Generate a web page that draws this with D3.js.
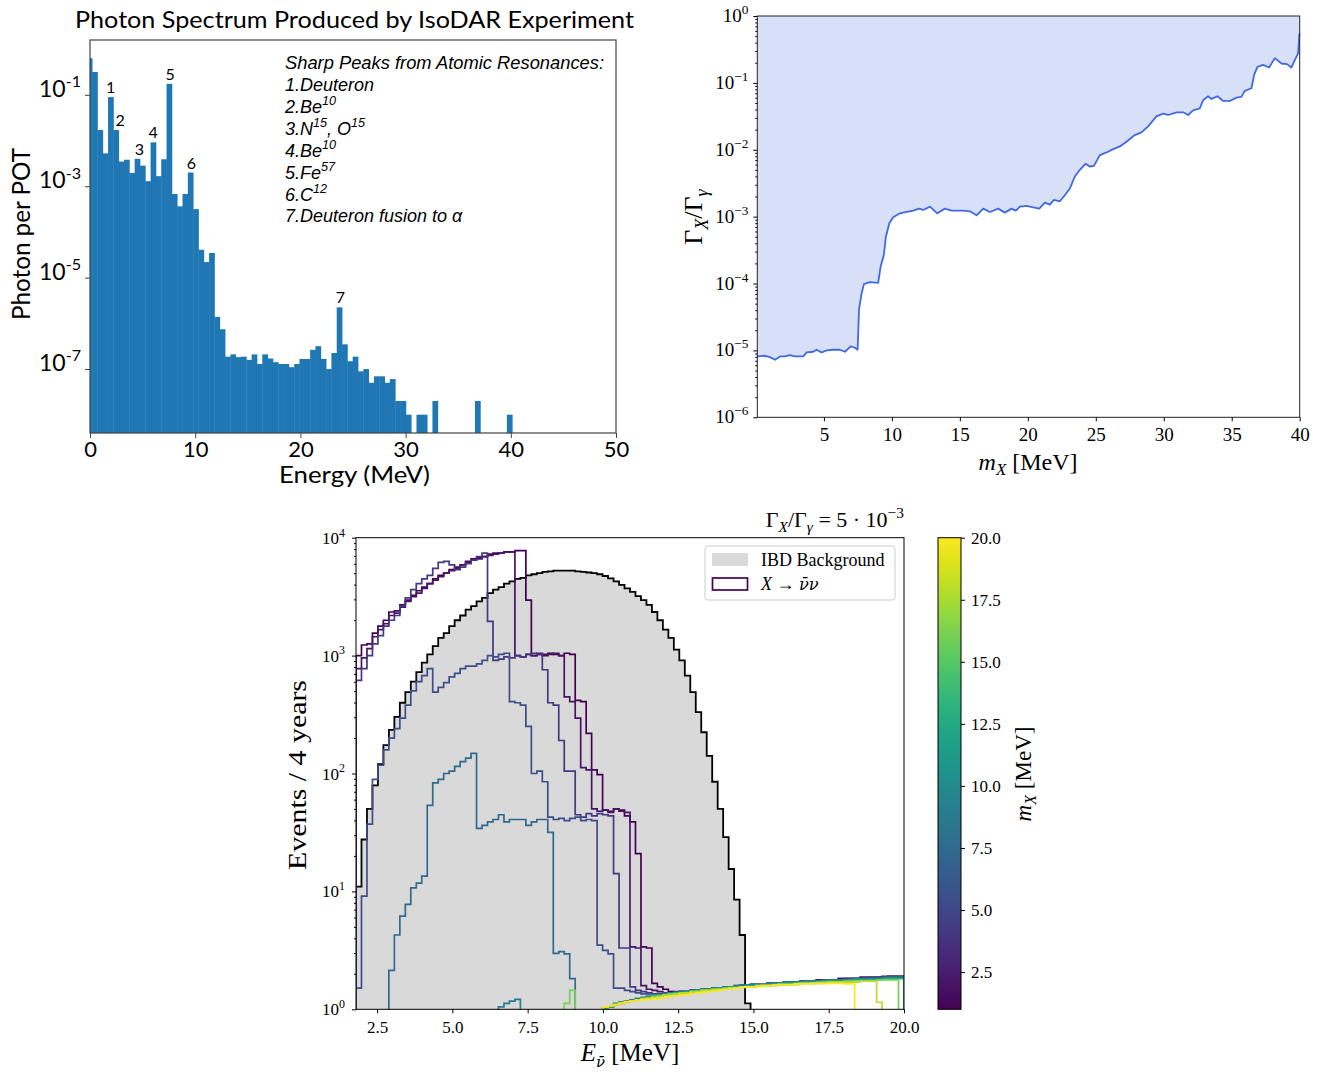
<!DOCTYPE html>
<html><head><meta charset="utf-8">
<script src="https://cdn.jsdelivr.net/npm/d3@7/dist/d3.min.js"></script>
<style>html,body{margin:0;padding:0;background:#fff;}svg{display:block;}</style>
</head><body>
<svg id="chart" width="1318" height="1072"></svg>
<script>
// ================= DATA =================
// Panel 1: photon spectrum, log10(photons per POT) per bin; first entry = partial bin [0, first edge]
const photonFirstEdge = 0.2;
const photonBinWidth = 0.5055;
const photonLog10 = [-0.20,-0.50,-1.77,-2.28,-1.05,-1.77,-2.46,-2.42,-2.71,-2.40,
 -2.55,-2.89,-2.04,-2.78,-2.41,-0.76,-3.17,-3.44,-3.17,-2.70,
 -3.50,-4.39,-4.66,-4.46,-5.86,-6.13,-6.73,-6.68,-6.74,-6.73,
 -6.80,-6.68,-6.89,-6.68,-6.77,-6.85,-6.89,-6.89,-6.96,-6.89,
 -6.78,-6.78,-6.58,-6.50,-6.78,-7.00,-6.65,-5.65,-6.46,-6.83,
 -6.73,-7.05,-7.00,-7.30,-7.16,-7.16,-7.30,-7.22,-7.70,-7.70,
 -8.00,null,-8.00,-8.00,null,-7.70,null,null,null,null,
 null,null,null,-7.70,null,null,null,null,null,-8.00];
const photonTicksX = [0,10,20,30,40,50];
const photonTicksExp = [-1,-3,-5,-7];
const peakNames = ["1","2","3","4","5","6","7"];
const peakBins = [4,5,9,12,15,19,47];
const peakShift = [0,4,2,0,1,1,1];
const resonanceTitle = "Sharp Peaks from Atomic Resonances:";
const resonanceLines = [
  [["1.Deuteron",""]],
  [["2.Be","10"]],
  [["3.N","15"],[", O","15"]],
  [["4.Be","10"]],
  [["5.Fe","57"]],
  [["6.C","12"]],
  [["7.Deuteron fusion to \u03b1",""]]
];

// Panel 2: limit on Gamma_X / Gamma_gamma vs m_X
const massX = [0.1,0.66,1.03,1.4,1.77,2.13,2.5,2.87,3.48,3.73,4.22,4.46,4.83,5.2,5.69,6.18,6.55,6.96,7.28,7.48,
 7.58,7.77,7.94,8.38,8.99,9.17,9.41,9.56,9.81,10.1,10.59,11.08,11.57,12.01,12.31,12.8,13.34,13.9,14.39,15.25,
 15.74,16.23,16.72,17.21,17.82,18.31,18.8,19.12,19.42,19.91,20.4,20.84,21.25,21.62,21.92,22.36,22.72,23.09,23.46,23.83,
 24.24,24.56,24.86,25.3,25.79,26.28,26.77,27.26,27.87,28.36,28.85,29.46,29.95,30.32,30.94,31.43,31.79,32.16,32.65,32.9,
 33.26,33.51,33.95,34.37,34.86,35.35,35.71,35.96,36.45,36.65,36.89,37.31,37.75,38.17,38.66,39.07,39.39,39.64,39.88,39.98];
const ratioLog10 = [-5.09,-5.08,-5.10,-5.14,-5.09,-5.09,-5.07,-5.09,-5.09,-5.03,-5.02,-4.99,-5.03,-5.00,-4.99,-4.99,-5.02,-4.94,-4.96,-4.99,
 -4.39,-4.15,-4.01,-3.98,-3.99,-3.75,-3.57,-3.30,-3.10,-3.01,-2.95,-2.93,-2.91,-2.88,-2.90,-2.85,-2.95,-2.88,-2.91,-2.91,
 -2.92,-2.98,-2.88,-2.93,-2.88,-2.94,-2.88,-2.91,-2.85,-2.84,-2.86,-2.88,-2.79,-2.82,-2.75,-2.77,-2.68,-2.58,-2.40,-2.30,
 -2.21,-2.25,-2.24,-2.08,-2.04,-1.99,-1.95,-1.88,-1.78,-1.74,-1.65,-1.50,-1.46,-1.48,-1.44,-1.44,-1.48,-1.41,-1.38,-1.26,
 -1.20,-1.24,-1.20,-1.27,-1.27,-1.22,-1.21,-1.12,-1.08,-0.88,-0.76,-0.73,-0.77,-0.63,-0.71,-0.72,-0.77,-0.66,-0.56,-0.26];
const massTicks = [5,10,15,20,25,30,35,40];
const ratioTicksExp = [0,-1,-2,-3,-4,-5,-6];

// Panel 3: events / 4 years, log10 per bin (bins of nuBinWidth MeV from nuBinStart)
const nuBinStart = 1.8, nuBinWidth = 0.182, nuBinCount = 100;
const ibdLog10 = [1.04,1.44,1.70,1.90,2.08,2.24,2.37,2.48,2.60,2.69,
 2.78,2.86,2.94,3.01,3.08,3.15,3.19,3.25,3.30,3.34,
 3.39,3.42,3.46,3.49,3.53,3.56,3.58,3.61,3.63,3.65,
 3.66,3.68,3.69,3.70,3.71,3.715,3.72,3.72,3.72,3.72,
 3.715,3.71,3.705,3.70,3.69,3.675,3.655,3.63,3.60,3.57,
 3.54,3.505,3.47,3.43,3.37,3.30,3.22,3.15,3.05,2.96,
 2.83,2.69,2.52,2.35,2.15,1.93,1.70,1.46,1.19,0.93,
 0.63,0.05];
const curveMasses = [1,2,4,5.5,7.5,9,12.5,16,18,20];
// each curve: list of [first bin, log10 values...]
const curveM1 = [
 [0,[3.00,3.09,3.10,3.19,3.25,3.30,3.37,3.38,3.43,3.47,3.51,3.55,3.58,3.61,3.65,3.68,3.70,3.73,3.75,3.77,3.80,3.82,3.83,3.84,3.86,3.87,3.87,3.88,3.88,3.89,3.89]],
 [31,[3.47]],
 [32,[3.00,3.01,3.00,3.02,3.01,3.00,3.02,3.01]],
 [40,[2.62,2.61,2.34,2.03,1.99,1.69,1.68,1.70,1.69,1.64,1.59,1.32,0.53,0.52,0.22]],
 [55,[0.19,0.17,0.15,0.14,0.14,0.15,0.15,0.16,0.16,0.17,0.17,0.18,0.18,0.19,0.19,0.20,0.20,0.21,0.21,0.21,0.22,0.22,0.22,0.23,0.23,0.23,0.24,0.24,0.24,0.25,0.25,0.25,0.25,0.26,0.26,0.26,0.26,0.27,0.27,0.27,0.27,0.28,0.28,0.28,0.28]]
];
const curveM2 = [
 [0,[2.89,2.98,3.06,3.16,3.22,3.27,3.34,3.36,3.41,3.46,3.50,3.53,3.57,3.61,3.64,3.67,3.70,3.72,3.74,3.77,3.79,3.81,3.82,3.84,3.85,3.86,3.87,3.88,3.88]],
 [29,[3.00,2.99,3.01,3.00,3.02,3.01,3.01,3.02,3.00]],
 [38,[2.65,2.61,2.47,2.05,2.03,1.70,1.68,1.69,1.67,1.70,1.68,1.67,0.53,0.52,0.20]],
 [53,[0.17,0.16,0.15,0.14,0.14,0.14,0.15,0.15,0.16,0.16,0.17,0.17,0.18,0.18,0.18,0.19,0.19,0.20,0.20,0.21,0.21,0.21,0.22,0.22,0.22,0.23,0.23,0.23,0.24,0.24,0.24,0.25,0.25,0.25,0.25,0.26,0.26,0.26,0.26,0.27,0.27,0.27,0.27,0.27,0.28,0.28,0.28]]
];
const curveM4 = [
 [0,[2.79,2.89,3.00,3.10,3.17,3.25,3.30,3.34,3.42,3.49,3.56,3.61,3.65,3.68,3.74,3.79,3.80,3.77,3.73,3.75,3.78,3.81,3.84,3.87]],
 [24,[3.29,2.96,2.97,2.99,2.98,3.00,2.99,3.01,3.02,3.01,2.88,2.60,2.58,2.28,2.02,2.02,1.65,1.63,1.66,1.64,1.66,1.65,1.64,1.15,0.52,0.52,0.19]],
 [51,[0.16,0.15,0.14,0.13,0.13,0.13,0.14,0.14,0.15,0.15,0.16,0.16,0.17,0.17,0.18,0.18,0.19,0.19,0.19,0.20,0.20,0.21,0.21,0.21,0.22,0.22,0.22,0.23,0.23,0.23,0.24,0.24,0.24,0.24,0.25,0.25,0.25,0.25,0.26,0.26,0.26,0.26,0.26,0.27,0.27,0.27,0.27,0.27,0.27]]
];
const curveM5 = [
 [0,[0.18,0.96,1.57,1.95,2.07,2.20,2.30,2.38,2.47,2.58,2.70,2.78,2.83,2.89]],
 [14,[2.69,2.73,2.77,2.82,2.85,2.89,2.91,2.91,2.93,2.96,3.00,2.99,3.01,3.02]],
 [28,[2.61,2.60,2.58,2.40,2.00,2.02,1.93,1.63,1.61,1.62,1.60,1.62,1.63,1.60,1.61,1.60,0.545,0.50,0.47,0.18,0.18,0.16]],
 [50,[0.15,0.14,0.13,0.13,0.13,0.13,0.14,0.14,0.15,0.15,0.15,0.16,0.16,0.17,0.17,0.18,0.18,0.19,0.19,0.19,0.20,0.20,0.21,0.21,0.21,0.22,0.22,0.22,0.23,0.23,0.23,0.24,0.24,0.24,0.24,0.25,0.25,0.25,0.25,0.26,0.26,0.26,0.26,0.26,0.27,0.27,0.27,0.27,0.27,0.27]]
];
const curveM7 = [
 [6,[0.33,0.63,0.79,0.89,1.03,1.07,1.13,1.73,1.92,1.95,2.00,2.02,2.06,2.10,2.13,2.17]],
 [22,[1.535,1.56,1.59,1.61,1.65,1.59,1.61,1.61,1.61,1.56,1.59,1.61,1.61,1.50,0.475,0.49,0.47,0.26]],
 [46,[0.02,0.04,0.06,0.07,0.08,0.09,0.10,0.11,0.12,0.12,0.13,0.14,0.14,0.15,0.15,0.16,0.16,0.17,0.17,0.18,0.18,0.19,0.19,0.20,0.20,0.20,0.21,0.21,0.21,0.22,0.22,0.22,0.23,0.23,0.23,0.23,0.24,0.24,0.24,0.24,0.25,0.25,0.25,0.25,0.25,0.26,0.26,0.26,0.26,0.26,0.27,0.27,0.27,0.27]]
];
const curveM9 = [
 [26,[0.02,0.05,0.07,0.085]],
 [45,[0.01,0.03,0.05,0.06,0.07,0.08,0.09,0.10,0.11,0.12,0.12,0.13,0.14,0.14,0.15,0.15,0.16,0.16,0.17,0.17,0.18,0.18,0.19,0.19,0.20,0.20,0.20,0.21,0.21,0.21,0.22,0.22,0.22,0.23,0.23,0.23,0.23,0.24,0.24,0.24,0.24,0.25,0.25,0.25,0.25,0.25,0.26,0.26,0.26,0.26,0.26,0.26,0.27,0.27,0.27]]
];
const curveM12 = [
 [45,[0.01,0.02,0.04,0.05,0.06,0.07,0.08,0.09,0.10,0.11,0.12,0.12,0.13,0.14,0.14,0.15,0.15,0.16,0.16,0.17,0.17,0.18,0.18,0.19,0.19,0.19,0.20,0.20,0.20,0.21,0.21,0.21,0.22,0.22,0.22,0.22,0.23,0.23,0.23,0.23,0.24,0.24,0.24,0.24,0.24,0.25,0.25,0.25,0.25,0.25,0.25,0.26,0.26,0.26,0.26]]
];
const curveM16 = [
 [38,[0.05,0.16]],
 [45,[0.02,0.03,0.04,0.05,0.06,0.07,0.08,0.09,0.10,0.11,0.11,0.12,0.13,0.13,0.14,0.14,0.15,0.15,0.16,0.16,0.17,0.17,0.18,0.18,0.18,0.19,0.19,0.19,0.20,0.20,0.20,0.21,0.21,0.21,0.21,0.22,0.22,0.22,0.22,0.23,0.23,0.23,0.23,0.23,0.24,0.24,0.24,0.24,0.24,0.24,0.25,0.25,0.25,0.25]]
];
const curveM18 = [
 [45,[0.02,0.03,0.04,0.05,0.06,0.07,0.08,0.09,0.09,0.10,0.11,0.12,0.12,0.13,0.14,0.14,0.15,0.15,0.16,0.16,0.17,0.17,0.17,0.18,0.18,0.19,0.19,0.19,0.20,0.20,0.20,0.20,0.21,0.21,0.21,0.21,0.22,0.22,0.22,0.22,0.22,0.23,0.23,0.23,0.23,0.23,0.23,0.24,0.24,0.24,0.06]]
];
const curveM20 = [
 [45,[0.02,0.03,0.04,0.05,0.065,0.07,0.075,0.08,0.085,0.09,0.093,0.10,0.11,0.115,0.12,0.125,0.135,0.14,0.145,0.15,0.155,0.16,0.17,0.175,0.18,0.185,0.19,0.19,0.195,0.20,0.20,0.205,0.21,0.21,0.21,0.215,0.215,0.215,0.22,0.22,0.22,0.22,0.22,0.22,0.215,0.215]]
];
const curveList = [curveM1,curveM2,curveM4,curveM5,curveM7,curveM9,curveM12,curveM16,curveM18,curveM20];
const energyTicks = [2.5,5,7.5,10,12.5,15,17.5,20];
const eventTicksExp = [0,1,2,3,4];
const colorbarTicks = [2.5,5,7.5,10,12.5,15,17.5,20];
const legendLabels = ["IBD Background","X \u2192 \u03bd\u0304\u03bd"];

// ================= DRAWING =================
const svg = d3.select("#chart");
const SERIF = "'Liberation Serif','DejaVu Serif',serif";
const DJS = "'DejaVu Serif',serif";
const SANS = "Lato,'Open Sans',sans-serif";
const ARIAL = "'Liberation Sans',Arial,sans-serif";

function rich(text, parts, fs){
  let cur = 0;
  parts.forEach(p => {
    const small = p.sup || p.sub;
    const target = p.sup ? -fs*0.42 : (p.sub ? fs*0.22 : 0);
    const ts = text.append("tspan").attr("font-size", (small ? fs*0.7 : fs)*(p.s||1)).text(p.t);
    if (target - cur !== 0) ts.attr("dy", target - cur);
    if (p.i) ts.attr("font-style","italic");
    if (p.f) ts.attr("font-family", p.f);
    cur = target;
  });
  return text;
}
function minorLogTicks(lo, hi){
  const out=[];
  for(let e=lo;e<hi;e++) for(let m=2;m<=9;m++) out.push(m*Math.pow(10,e));
  return out;
}

// ---------- Panel 1 ----------
const P1 = {l:90, r:616, t:40, b:433};
const x1 = d3.scaleLinear().domain([0,50]).range([P1.l,P1.r]);
const y1 = d3.scaleLog().domain([Math.pow(10,-8.4), Math.pow(10,0.2)]).range([P1.b,P1.t]);
const g1 = svg.append("g");
const pLo = j => j===0 ? 0 : photonFirstEdge + (j-1)*photonBinWidth;
const pHi = j => photonFirstEdge + j*photonBinWidth;
g1.selectAll("rect.bar").data(photonLog10.map((v,j)=>({v,j})).filter(d=>d.v!==null))
  .join("rect").attr("class","bar")
  .attr("x", d=>x1(pLo(d.j)))
  .attr("width", d=>x1(pHi(d.j))-x1(pLo(d.j))+0.4)
  .attr("y", d=>y1(Math.pow(10,d.v)))
  .attr("height", d=>P1.b - y1(Math.pow(10,d.v)))
  .attr("fill","#1f77b4");
g1.append("rect").attr("x",P1.l).attr("y",P1.t).attr("width",P1.r-P1.l).attr("height",P1.b-P1.t)
  .attr("fill","none").attr("stroke","#444").attr("stroke-width",1.2);
const ax1 = g1.append("g").attr("transform",`translate(0,${P1.b})`)
  .call(d3.axisBottom(x1).tickValues(photonTicksX).tickSize(5).tickPadding(3).tickFormat(d3.format("d")));
ax1.select(".domain").remove();
ax1.selectAll("line").attr("stroke","#444");
ax1.selectAll("text").attr("font-family",SANS).attr("font-size",22).attr("fill","#000");
const ay1 = g1.append("g").attr("transform",`translate(${P1.l},0)`)
  .call(d3.axisLeft(y1).tickValues(photonTicksExp.map(e=>Math.pow(10,e))).tickSize(5).tickFormat(""));
ay1.select(".domain").remove();
ay1.selectAll("line").attr("stroke","#444");
photonTicksExp.forEach(e=>{
  rich(g1.append("text").attr("x",P1.l-9).attr("y",y1(Math.pow(10,e))+2).attr("text-anchor","end")
    .attr("font-family",SANS).attr("fill","#000"), [{t:"10"},{t:String(e),sup:true}], 23);
});
peakBins.forEach((j,i)=>{
  g1.append("text").attr("x", x1((pLo(j)+pHi(j))/2)+peakShift[i]).attr("y", y1(Math.pow(10,photonLog10[j]))-4)
    .attr("text-anchor","middle").attr("font-family",SANS).attr("font-size",16).attr("fill","#000").text(peakNames[i]);
});
g1.append("text").attr("x",354.5).attr("y",28).attr("text-anchor","middle").attr("font-family",SANS)
  .attr("font-size",24).attr("textLength",559).attr("lengthAdjust","spacingAndGlyphs").attr("fill","#000")
  .text("Photon Spectrum Produced by IsoDAR Experiment");
g1.append("text").attr("x",354.5).attr("y",483).attr("text-anchor","middle").attr("font-family",SANS)
  .attr("font-size",23).attr("textLength",151).attr("lengthAdjust","spacingAndGlyphs").attr("fill","#000")
  .text("Energy (MeV)");
g1.append("text").attr("transform","translate(30,234) rotate(-90)").attr("text-anchor","middle").attr("font-family",SANS)
  .attr("font-size",25).attr("textLength",172).attr("lengthAdjust","spacingAndGlyphs").attr("fill","#000")
  .text("Photon per POT");
g1.append("text").attr("x",285).attr("y",69).attr("font-family",ARIAL).attr("font-style","italic")
  .attr("font-size",18).attr("textLength",319).attr("lengthAdjust","spacingAndGlyphs").attr("fill","#000").text(resonanceTitle);
resonanceLines.forEach((line,i)=>{
  const parts=[];
  line.forEach(([t,s])=>{ parts.push({t:t}); if(s) parts.push({t:s,sup:true}); });
  rich(g1.append("text").attr("x",285).attr("y",91+21.9*i).attr("font-family",ARIAL).attr("font-style","italic").attr("fill","#000"), parts, 18);
});

// ---------- Panel 2 ----------
const P2 = {l:757.3, r:1299.7, t:16, b:417.3};
const x2 = d3.scaleLinear().domain([0.1,40]).range([P2.l,P2.r]);
const y2 = d3.scaleLog().domain([1e-6,1]).range([P2.b,P2.t]);
const g2 = svg.append("g");
const lim = massX.map((m,i)=>[m, ratioLog10[i]]);
g2.append("path").attr("d", d3.area().x(d=>x2(d[0])).y0(P2.t).y1(d=>y2(Math.pow(10,d[1])))(lim))
  .attr("fill","#d8e0f8");
g2.append("path").attr("d", d3.line().x(d=>x2(d[0])).y(d=>y2(Math.pow(10,d[1])))(lim))
  .attr("fill","none").attr("stroke","#4169e1").attr("stroke-width",1.8).attr("stroke-linejoin","round");
g2.append("rect").attr("x",P2.l).attr("y",P2.t).attr("width",P2.r-P2.l).attr("height",P2.b-P2.t)
  .attr("fill","none").attr("stroke","#222").attr("stroke-width",1);
const ax2 = g2.append("g").attr("transform",`translate(0,${P2.b})`)
  .call(d3.axisBottom(x2).tickValues(massTicks).tickSize(4).tickPadding(6).tickFormat(d3.format("d")));
ax2.select(".domain").remove();
ax2.selectAll("text").attr("font-family",SERIF).attr("font-size",19).attr("fill","#000");
const ay2 = g2.append("g").attr("transform",`translate(${P2.l},0)`)
  .call(d3.axisLeft(y2).tickValues(ratioTicksExp.map(e=>Math.pow(10,e))).tickSize(4).tickFormat(""));
ay2.select(".domain").remove();
g2.append("g").attr("transform",`translate(${P2.l},0)`)
  .call(d3.axisLeft(y2).tickValues(minorLogTicks(-6,0)).tickSize(2).tickFormat(""))
  .select(".domain").remove();
ratioTicksExp.forEach(e=>{
  rich(g2.append("text").attr("x",P2.l-9).attr("y",y2(Math.pow(10,e))+6).attr("text-anchor","end")
    .attr("font-family",SERIF).attr("fill","#000"), [{t:"10"},{t:(e<0?"\u2212"+(-e):String(e)),sup:true}], 19);
});
rich(g2.append("text").attr("x",1028).attr("y",470).attr("text-anchor","middle").attr("font-family",SERIF).attr("fill","#000"),
  [{t:"m",i:true},{t:"X",i:true,sub:true},{t:" [MeV]"}], 24);
rich(g2.append("text").attr("transform","translate(702,217) rotate(-90)").attr("text-anchor","middle").attr("font-family",SERIF).attr("fill","#000"),
  [{t:"\u0393"},{t:"X",i:true,sub:true},{t:"/\u0393"},{t:"\u03b3",i:true,sub:true}], 26);

// ---------- Panel 3 ----------
const P3 = {l:356, r:904, t:537.7, b:1009.3};
const x3 = d3.scaleLinear().domain([1.8,20]).range([P3.l,P3.r]);
const y3 = d3.scaleLog().domain([1,1e4]).range([P3.b,P3.t]);
const edge = i => nuBinStart + i*nuBinWidth;
const vir = m => d3.interpolateViridis((m-1)/19);
function expand(segs){
  const a = new Array(nuBinCount).fill(null);
  segs.forEach(([s,vals])=>vals.forEach((v,k)=>{ if(s+k<nuBinCount) a[s+k]=v; }));
  return a;
}
function stepPts(vals){
  const floor = P3.b + 30;
  const f = vals.findIndex(v=>v!==null);
  let l = vals.length-1; while(l>=0 && vals[l]===null) l--;
  const pts=[[x3(edge(f)), floor]];
  for(let i=f;i<=l;i++){
    const yy = vals[i]===null ? floor : y3(Math.pow(10,vals[i]));
    pts.push([x3(edge(i)),yy],[x3(edge(i+1)),yy]);
  }
  pts.push([x3(edge(l+1)), floor]);
  return pts;
}
const defs = svg.append("defs");
defs.append("clipPath").attr("id","clip3").append("rect")
  .attr("x",P3.l).attr("y",P3.t).attr("width",P3.r-P3.l).attr("height",P3.b-P3.t);
const g3 = svg.append("g");
const plot3 = g3.append("g").attr("clip-path","url(#clip3)");
const ibdPts = stepPts(ibdLog10);
plot3.append("path").attr("d", d3.line()(ibdPts)+"Z").attr("fill","#d9d9d9");
plot3.append("path").attr("d", d3.line()(ibdPts)).attr("fill","none").attr("stroke","#000").attr("stroke-width",1.8);
curveList.forEach((segs,idx)=>{
  plot3.append("path").attr("d", d3.line()(stepPts(expand(segs))))
    .attr("fill","none").attr("stroke", vir(curveMasses[idx])).attr("stroke-width",1.7);
});
g3.append("rect").attr("x",P3.l).attr("y",P3.t).attr("width",P3.r-P3.l).attr("height",P3.b-P3.t)
  .attr("fill","none").attr("stroke","#000").attr("stroke-width",1);
const ax3 = g3.append("g").attr("transform",`translate(0,${P3.b})`)
  .call(d3.axisBottom(x3).tickValues(energyTicks).tickSize(4).tickPadding(8).tickFormat(d3.format(".1f")));
ax3.select(".domain").remove();
ax3.selectAll("text").attr("font-family",SERIF).attr("font-size",17).attr("fill","#000");
const ay3 = g3.append("g").attr("transform",`translate(${P3.l},0)`)
  .call(d3.axisLeft(y3).tickValues(eventTicksExp.map(e=>Math.pow(10,e))).tickSize(4).tickFormat(""));
ay3.select(".domain").remove();
g3.append("g").attr("transform",`translate(${P3.l},0)`)
  .call(d3.axisLeft(y3).tickValues(minorLogTicks(0,4)).tickSize(2).tickFormat(""))
  .select(".domain").remove();
eventTicksExp.forEach(e=>{
  rich(g3.append("text").attr("x",P3.l-11).attr("y",y3(Math.pow(10,e))+6).attr("text-anchor","end")
    .attr("font-family",SERIF).attr("fill","#000"), [{t:"10"},{t:String(e),sup:true}], 17);
});
rich(g3.append("text").attr("x",630).attr("y",1061).attr("text-anchor","middle").attr("font-family",SERIF).attr("fill","#000"),
  [{t:"E",i:true},{t:"\u03bd\u0304",i:true,sub:true,f:DJS,s:0.85},{t:"\u00a0[MeV]"}], 25);
g3.append("text").attr("transform","translate(306,775) rotate(-90)").attr("text-anchor","middle").attr("font-family",SERIF)
  .attr("font-size",25).attr("textLength",190).attr("lengthAdjust","spacingAndGlyphs").attr("fill","#000").text("Events / 4 years");
rich(g3.append("text").attr("x",904).attr("y",527).attr("text-anchor","end").attr("font-family",SERIF).attr("fill","#000"),
  [{t:"\u0393"},{t:"X",i:true,sub:true},{t:"/\u0393"},{t:"\u03b3",i:true,sub:true},{t:" = 5 \u00b7 10"},{t:"\u22123",sup:true}], 22);
// legend
const lg = g3.append("g");
lg.append("rect").attr("x",705).attr("y",546).attr("width",190).attr("height",54).attr("rx",3)
  .attr("fill","#fff").attr("fill-opacity",0.85).attr("stroke","#cccccc");
lg.append("rect").attr("x",712).attr("y",553).attr("width",36).attr("height",13).attr("fill","#d9d9d9");
lg.append("rect").attr("x",712.5).attr("y",578).attr("width",35).attr("height",12).attr("fill","none")
  .attr("stroke",vir(curveMasses[0])).attr("stroke-width",1.7);
lg.append("text").attr("x",761).attr("y",566).attr("font-family",SERIF).attr("font-size",18).attr("fill","#000").text(legendLabels[0]);
rich(lg.append("text").attr("x",761).attr("y",590).attr("font-family",SERIF).attr("fill","#000"),
  [{t:"X",i:true},{t:" \u2192 "},{t:"\u03bd\u0304\u03bd",i:true,f:DJS,s:0.9}], 18);
// colorbar
const CB = {l:938, r:961, t:537.7, b:1009.3};
const cbY = d3.scaleLinear().domain([1,20]).range([CB.b,CB.t]);
const grad = defs.append("linearGradient").attr("id","virGrad").attr("x1",0).attr("y1",1).attr("x2",0).attr("y2",0);
d3.range(0,1.0001,0.05).forEach(t=>grad.append("stop").attr("offset",t).attr("stop-color",d3.interpolateViridis(t)));
g3.append("rect").attr("x",CB.l).attr("y",CB.t).attr("width",CB.r-CB.l).attr("height",CB.b-CB.t)
  .attr("fill","url(#virGrad)").attr("stroke","#000").attr("stroke-width",1);
const acb = g3.append("g").attr("transform",`translate(${CB.r},0)`)
  .call(d3.axisRight(cbY).tickValues(colorbarTicks).tickSize(4).tickPadding(6).tickFormat(d3.format(".1f")));
acb.select(".domain").remove();
acb.selectAll("text").attr("font-family",SERIF).attr("font-size",17).attr("fill","#000");
rich(g3.append("text").attr("transform","translate(1031,774) rotate(-90)").attr("text-anchor","middle").attr("font-family",SERIF).attr("fill","#000"),
  [{t:"m",i:true},{t:"X",i:true,sub:true},{t:" [MeV]"}], 23);
</script>
</body></html>
